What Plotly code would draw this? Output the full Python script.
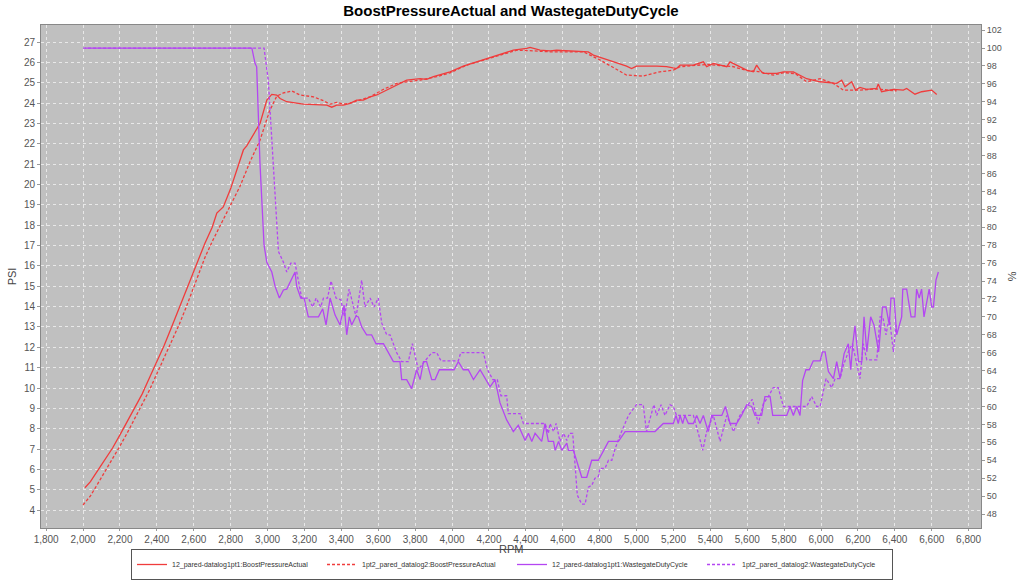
import plotly.graph_objects as go

# ---- data ----
rpm_s1 = [2010, 2040, 2080, 2120, 2160, 2200, 2240, 2280, 2320, 2360, 2400, 2440, 2480, 2520, 2560, 2580,
          2620, 2660, 2700, 2725, 2760, 2800, 2840, 2869, 2887, 2920, 2959, 2996, 3023, 3050, 3068, 3104,
          3194, 3321, 3348, 3375, 3411, 3447, 3483, 3519, 3556, 3592, 3628, 3682, 3754, 3827, 3862, 3899,
          3989, 4061, 4134, 4206, 4260, 4332, 4405, 4423, 4477, 4531, 4567, 4738, 4766, 4946, 4973, 5000,
          5109, 5163, 5217, 5236, 5308, 5362, 5380, 5416, 5489, 5507, 5542, 5597, 5633, 5651, 5669, 5687,
          5760, 5796, 5850, 5886, 5922, 5995, 6085, 6112, 6130, 6166, 6187, 6211, 6247, 6301, 6310, 6328,
          6392, 6446, 6464, 6509, 6545, 6600, 6627]
psi_s1 = [5.1, 5.4, 5.95, 6.5, 7.05, 7.7, 8.35, 9.0, 9.7, 10.5, 11.3, 12.1, 13.0, 13.9, 14.8, 15.3,
          16.2, 17.1, 17.9, 18.6, 18.9, 19.8, 20.9, 21.7, 21.9, 22.4, 23.0, 24.15, 24.43, 24.4, 24.23, 24.07,
          23.95, 23.9, 23.8, 23.9, 23.9, 23.99, 24.15, 24.15, 24.31, 24.4, 24.56, 24.8, 25.13, 25.2, 25.17, 25.3,
          25.54, 25.82, 26.03, 26.2, 26.36, 26.6, 26.69, 26.74, 26.6, 26.57, 26.6, 26.52, 26.36, 25.82, 25.7, 25.82,
          25.82, 25.79, 25.7, 25.87, 25.87, 26.03, 25.79, 25.95, 25.79, 26.03, 25.87, 25.62, 25.54, 25.87, 25.62, 25.46,
          25.46, 25.54, 25.54, 25.38, 25.2, 25.05, 24.97, 25.13, 24.8, 25.05, 24.64, 24.77, 24.68, 24.72, 24.94, 24.56,
          24.68, 24.64, 24.72, 24.44, 24.56, 24.64, 24.43]

rpm_s2 = [2000, 2040, 2080, 2120, 2160, 2200, 2240, 2280, 2320, 2360, 2400, 2440, 2480, 2520, 2560, 2612,
          2660, 2700, 2760, 2800, 2850, 2905, 2959, 3010, 3050, 3086, 3131, 3176, 3249, 3303, 3339, 3375,
          3411, 3447, 3501, 3556, 3628, 3700, 3754, 3827, 3917, 3989, 4080, 4170, 4260, 4314, 4350, 4441,
          4531, 4712, 4802, 4946, 5036, 5127, 5199, 5236, 5300, 5380, 5450, 5520, 5600, 5660, 5741, 5800,
          5860, 5922, 5995, 6067, 6121, 6211, 6300, 6410]
psi_s2 = [4.25, 4.7, 5.3, 5.9, 6.5, 7.15, 7.8, 8.5, 9.2, 9.9, 10.7, 11.5, 12.3, 13.1, 14.0, 15.3,
          16.4, 17.2, 18.25, 19.0, 19.9, 21.12, 22.18, 23.6, 24.35, 24.5, 24.6, 24.4, 24.31, 24.12, 23.95, 24.04,
          23.95, 24.0, 24.15, 24.31, 24.68, 24.97, 25.05, 25.13, 25.3, 25.49, 25.87, 26.12, 26.35, 26.52, 26.6, 26.57,
          26.52, 26.52, 26.12, 25.38, 25.33, 25.54, 25.62, 25.79, 25.85, 25.9, 25.85, 25.8, 25.6, 25.55, 25.38, 25.5,
          25.45, 25.05, 25.2, 24.97, 24.64, 24.64, 24.7, 24.6]

rpm_s3 = [2010, 2915, 2932, 2941, 2959, 2974, 2981, 2996, 3023, 3041, 3064, 3086, 3104, 3149, 3158, 3180,
          3198, 3221, 3276, 3299, 3317, 3339, 3366, 3393, 3415, 3429, 3443, 3456, 3480, 3492, 3510, 3537,
          3564, 3588, 3628, 3682, 3718, 3727, 3754, 3781, 3808, 3827, 3845, 3862, 3890, 3908, 3931, 4011,
          4034, 4061, 4088, 4116, 4152, 4206, 4233, 4260, 4296, 4332, 4359, 4396, 4414, 4432, 4450, 4486,
          4504, 4522, 4550, 4559, 4577, 4595, 4622, 4631, 4658, 4703, 4730, 4757, 4793, 4848, 4902, 4938,
          5100, 5145, 5199, 5214, 5226, 5236, 5250, 5262, 5281, 5308, 5326, 5344, 5362, 5389, 5407, 5462,
          5482, 5507, 5542, 5569, 5597, 5624, 5642, 5678, 5696, 5724, 5738, 5814, 5832, 5850, 5868, 5886,
          5900, 5918, 5936, 5958, 5995, 6008, 6022, 6040, 6067, 6085, 6103, 6125, 6148, 6161, 6172, 6184,
          6203, 6221, 6233, 6248, 6269, 6287, 6312, 6333, 6352, 6370, 6379, 6396, 6410, 6437, 6443, 6464,
          6488, 6509, 6518, 6532, 6545, 6558, 6586, 6600, 6609, 6623, 6636]
wg_s3 = [100, 100, 98.3, 97.9, 87.1, 80.8, 78.0, 76.1, 75.0, 73.4, 72.1, 73.0, 73.1, 75.0, 73.4, 72.1,
         72.1, 70.0, 70.0, 70.9, 69.1, 72.1, 70.2, 69.1, 71.3, 68.0, 70.0, 69.1, 70.1, 70.0, 68.9, 68.0,
         68.0, 67.0, 67.0, 65.0, 65.0, 63.0, 63.0, 62.0, 64.1, 63.0, 65.0, 65.0, 63.0, 63.0, 64.1, 64.1,
         65.0, 64.1, 64.1, 63.0, 64.1, 62.2, 63.0, 60.4, 58.5, 57.2, 57.9, 56.2, 57.0, 56.1, 57.0, 56.1,
         58.1, 56.1, 56.1, 55.1, 56.1, 55.1, 55.9, 55.1, 55.1, 52.1, 52.1, 54.0, 54.0, 56.1, 56.1, 57.2,
         57.2, 58.1, 58.1, 59.0, 58.1, 59.0, 58.1, 59.0, 58.1, 58.1, 59.0, 58.1, 59.0, 57.2, 59.0, 59.0,
         60.0, 58.1, 58.1, 59.0, 60.2, 60.0, 59.0, 59.0, 61.1, 61.1, 59.0, 59.0, 60.0, 59.0, 60.0, 59.0,
         62.9, 64.1, 64.1, 65.1, 65.1, 66.1, 66.1, 63.9, 63.1, 65.0, 63.1, 65.9, 67.0, 64.1, 67.0, 69.0,
         65.0, 65.0, 70.0, 66.1, 70.0, 69.1, 66.1, 71.1, 71.1, 69.1, 72.1, 72.1, 68.0, 70.0, 73.1, 73.1,
         70.0, 70.0, 73.1, 72.1, 73.1, 70.0, 73.1, 71.1, 71.1, 74.1, 75.0]

rpm_s4 = [2000, 2981, 3004, 3031, 3046, 3059, 3086, 3104, 3126, 3149, 3185, 3221, 3245, 3263, 3288, 3303,
          3325, 3344, 3371, 3397, 3417, 3442, 3480, 3510, 3528, 3556, 3577, 3600, 3619, 3646, 3664, 3700,
          3727, 3763, 3785, 3817, 3850, 3890, 3917, 3940, 4034, 4047, 4170, 4192, 4221, 4245, 4265, 4296,
          4305, 4369, 4387, 4504, 4522, 4531, 4550, 4564, 4585, 4604, 4622, 4636, 4654, 4667, 4679, 4703,
          4721, 4739, 4757, 4775, 4793, 4802, 4829, 4848, 4866, 4884, 4911, 4956, 5000, 5036, 5054, 5094,
          5109, 5133, 5154, 5181, 5199, 5217, 5308, 5335, 5359, 5380, 5416, 5453, 5489, 5525, 5560, 5597,
          5627, 5660, 5687, 5714, 5741, 5768, 5796, 5868, 5922, 5949, 5976, 5995, 6027, 6058, 6076, 6103,
          6121, 6148, 6170, 6211, 6229, 6248, 6302, 6320, 6335, 6352, 6370, 6392, 6407]
wg_s4 = [100, 100, 96.4, 87.1, 80.8, 77.3, 76.1, 75.0, 76.0, 76.0, 72.1, 72.1, 71.1, 72.1, 71.1, 72.1,
         72.1, 74.0, 72.1, 71.9, 70.0, 73.1, 70.0, 74.1, 71.1, 72.1, 71.1, 72.1, 69.3, 68.0, 68.0, 66.0,
         65.0, 65.0, 67.0, 64.1, 65.0, 66.0, 66.0, 65.1, 65.1, 66.0, 66.0, 64.1, 63.0, 63.0, 61.2, 61.2,
         59.2, 59.2, 58.1, 58.1, 57.0, 58.1, 57.2, 58.1, 56.1, 57.0, 56.2, 57.0, 57.0, 53.6, 50.1, 49.1,
         49.1, 51.0, 51.2, 52.0, 52.2, 53.1, 53.1, 54.0, 54.0, 55.3, 56.8, 59.0, 60.2, 60.2, 57.2, 60.2,
         59.0, 60.2, 59.0, 60.2, 60.0, 59.0, 59.0, 57.0, 55.1, 57.2, 59.0, 56.1, 59.0, 57.2, 59.0, 60.0,
         60.8, 58.1, 60.3, 61.1, 62.1, 62.1, 60.0, 60.0, 60.0, 61.1, 60.0, 60.0, 63.1, 62.1, 63.1, 63.1,
         64.6, 66.1, 67.0, 63.1, 67.0, 65.2, 65.2, 70.0, 70.0, 68.0, 70.0, 66.1, 69.1]

names = ["12_pared-datalog1pt1:BoostPressureActual",
         "1pt2_pared_datalog2:BoostPressureActual",
         "12_pared-datalog1pt1:WastegateDutyCycle",
         "1pt2_pared_datalog2:WastegateDutyCycle"]

x_ticks = list(range(1800, 6801, 200))

RED = "#f03c3c"
PURPLE = "#b446f2"
FONT = "Liberation Sans, Arial, sans-serif"

fig = go.Figure()
fig.add_trace(go.Scatter(x=rpm_s1, y=psi_s1, name=names[0], mode="lines",
                         line=dict(color=RED, width=1.3), yaxis="y"))
fig.add_trace(go.Scatter(x=rpm_s2, y=psi_s2, name=names[1], mode="lines",
                         line=dict(color=RED, width=1.3, dash="3px,2px"), yaxis="y"))
fig.add_trace(go.Scatter(x=rpm_s3, y=wg_s3, name=names[2], mode="lines",
                         line=dict(color=PURPLE, width=1.3), yaxis="y2"))
fig.add_trace(go.Scatter(x=rpm_s4, y=wg_s4, name=names[3], mode="lines",
                         line=dict(color=PURPLE, width=1.3, dash="3px,2px"), yaxis="y2"))

title_font = dict(family=FONT, size=11, color="#444444")
fig.update_layout(
    width=1024, height=580,
    margin=dict(l=41, r=43, t=25, b=52, autoexpand=False),
    paper_bgcolor="white",
    plot_bgcolor="#c0c0c0",
    font=dict(family=FONT, size=10, color="#444444"),
    title=dict(text="<b>BoostPressureActual and WastegateDutyCycle</b>",
               x=0.499, xanchor="center", y=0.981, yanchor="middle",
               font=dict(family=FONT, size=15, color="#000000")),
    xaxis=dict(range=[1772, 6867], tickvals=x_ticks, tickformat=",d",
               showgrid=True, gridcolor="#e8e8e8", griddash="dot", gridwidth=1,
               ticks="outside", ticklen=2, tickcolor="#999999",
               showline=True, linecolor="#888888", mirror=True, zeroline=False,
               tickfont=dict(size=10, color="#555555")),
    yaxis=dict(range=[3.12, 27.84], dtick=1, tick0=0,
               showgrid=True, gridcolor="#e8e8e8", griddash="dot", gridwidth=1,
               ticks="outside", ticklen=3, tickcolor="#999999",
               showline=True, linecolor="#888888", mirror=True, zeroline=False,
               tickfont=dict(size=10, color="#555555")),
    yaxis2=dict(range=[46.44, 102.57], dtick=2, tick0=0, overlaying="y", side="right",
                showgrid=False, zeroline=False,
                ticks="outside", ticklen=3, tickcolor="#999999",
                showline=True, linecolor="#888888",
                tickfont=dict(size=9, color="#555555")),
    legend=dict(orientation="h", x=0.5, xanchor="center", xref="container",
                y=0.0, yanchor="bottom", yref="container",
                bordercolor="#555555", borderwidth=1, bgcolor="white",
                font=dict(family=FONT, size=7, color="#333333"),
                itemwidth=30, tracegroupgap=0,
                entrywidth=145, entrywidthmode="pixels"),
    showlegend=True,
    annotations=[
        dict(text="RPM", xref="paper", yref="paper", x=0.5, y=-0.042, xanchor="center",
             yanchor="middle", showarrow=False, font=title_font),
        dict(text="PSI", xref="paper", yref="paper", x=-0.031, y=0.5, xanchor="center",
             yanchor="middle", showarrow=False, textangle=-90, font=title_font),
        dict(text="%", xref="paper", yref="paper", x=1.033, y=0.5, xanchor="center",
             yanchor="middle", showarrow=False, textangle=90, font=title_font),
    ],
)

fig.write_html("out.html")
